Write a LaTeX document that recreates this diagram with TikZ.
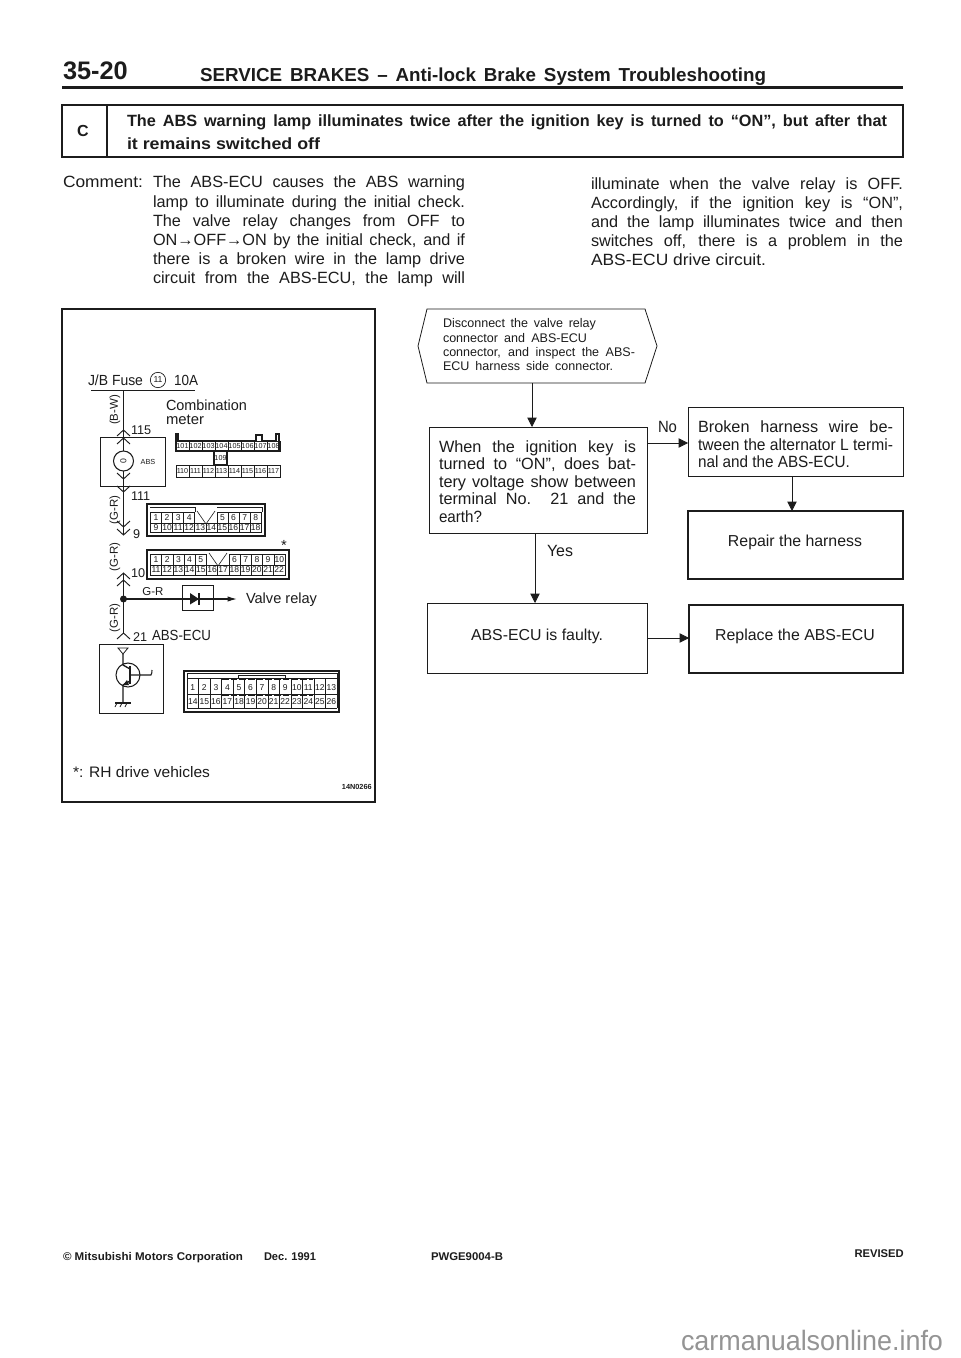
\documentclass[tikz,border=0pt]{standalone}
\usepackage{fontspec}
\setmainfont{Liberation Sans}
\usetikzlibrary{arrows.meta,calc}
\definecolor{ink}{HTML}{1C1C1C}
\newcommand{\fs}[1]{\fontsize{#1}{#1}\selectfont}
\newsavebox{\tlbox}
\newlength{\tlw}
\newcommand{\fitw}[2]{\setlength{\tlw}{0.75\dimexpr#1pt\relax}\sbox{\tlbox}{#2}\ifdim\wd\tlbox>\tlw\resizebox{\tlw}{\height}{\usebox{\tlbox}}\else\makebox[\tlw][s]{#2}\fi}
\newcommand{\forcew}[2]{\setlength{\tlw}{0.75\dimexpr#1pt\relax}\resizebox{\tlw}{\height}{#2}}
\newcommand{\tl}[5][\fs{12.2}]{\node[txt] at (#2,#3) {#1\fitw{#4}{#5}};}
\newcommand{\tr}[5][\fs{12.2}]{\node[txt] at (#2,#3) {#1\forcew{#4}{#5}};}
\tikzset{
  txt/.style={anchor=base west,inner sep=0pt,outer sep=0pt,text=ink},
  ctr/.style={anchor=center,inner sep=0pt,outer sep=0pt,text=ink},
  thin box/.style={draw=ink,line width=0.6pt,inner sep=0pt,outer sep=0pt},
  thick box/.style={draw=ink,line width=1.5pt,inner sep=0pt,outer sep=0pt},
  flow/.style={draw=ink,line width=0.6pt,-{Triangle[length=7pt,width=7pt]}},
  wire/.style={draw=ink,line width=1.4pt},
  chev/.style={draw=ink,line width=0.7pt},
  cell/.style={draw=ink,line width=0.45pt},
  pin/.style={ctr,font=\fs{6.4}},
  pinsm/.style={ctr,font=\fs{5.4}},
  bx/.style 2 args={minimum width=#1*0.75pt,minimum height=#2*0.75pt},
}
\begin{document}
\begin{tikzpicture}[x=0.75pt,y=-0.75pt]
\useasboundingbox (0,0) rectangle (960,1358);
\fill[white] (0,0) rectangle (960,1358);
% header
\tl[\bfseries\fs{19}]{63}{80}{65}{35-20}
\tl[\bfseries\fs{14.1}]{200}{82}{566}{SERVICE BRAKES -- Anti-lock Brake System Troubleshooting}
\fill[ink] (62,86) rectangle (903,89);
% C banner
\node[thin box,line width=0.9pt,bx={841}{52},anchor=north west] (ban) at (62,105) {};
\draw[ink,line width=0.9pt] (107,105) -- (107,157);
\node[ctr,font=\bfseries\fs{12}] (cc) at (83,131) {C};
\tl[\bfseries\fs{12.2}]{127}{127}{760}{The ABS warning lamp illuminates twice after the ignition key is turned to “ON”, but after that}
\tr[\bfseries\fs{12.2}]{127}{150}{193}{it remains switched off}
% comment
\tr{63}{188}{80}{Comment:}
\tl{153}{188}{312}{The ABS-ECU causes the ABS warning}
\tl{153}{207.5}{312}{lamp to illuminate during the initial check.}
\tl{153}{226.5}{312}{The valve relay changes from OFF to}
\tl{153}{246}{312}{ON\raisebox{0.5pt}{→}OFF\raisebox{0.5pt}{→}ON by the initial check, and if}
\tl{153}{265}{312}{there is a broken wire in the lamp drive}
\tl{153}{284}{312}{circuit from the ABS-ECU, the lamp will}
\tl{591}{190}{312}{illuminate when the valve relay is OFF.}
\tl{591}{209}{312}{Accordingly, if the ignition key is “ON”,}
\tl{591}{228}{312}{and the lamp illuminates twice and then}
\tl{591}{247}{312}{switches off, there is a problem in the}
\tr{591}{266}{175}{ABS-ECU drive circuit.}
% left frame
\node[thick box,bx={313}{493},anchor=north west] (frame) at (62,309) {};
\tr[\fs{11}]{88}{385}{55}{J/B Fuse}
\node[ctr,draw=ink,circle,line width=0.5pt,minimum size=11.5pt,font=\fs{6.5}] (f11) at (158,380) {11};
\tr[\fs{11}]{174}{385}{24}{10A}
\draw[ink,line width=0.7pt] (91,390) -- (195,390);
% main wire
\coordinate (wtop) at (123.5,390);
\coordinate (jun) at (123.5,599);
\coordinate (wbot) at (123.5,633);
\draw[wire] (wtop) -- (123.5,535);
\draw[wire] (123.5,573) -- (wbot);
\fill[ink] (jun) circle (3.5);
\node[ctr,rotate=90,font=\fs{8.6}] (w1) at (115,410) {(B-W)};
\node[ctr,rotate=90,font=\fs{8.6}] (w2) at (115,510) {(G-R)};
\node[ctr,rotate=90,font=\fs{8.6}] (w3) at (115,557) {(G-R)};
\node[ctr,rotate=90,font=\fs{8.6}] (w4) at (115,618) {(G-R)};
% chevrons
\foreach \yy/\dd in {430/-1,438/-1,479/1,492/1,527/1,535/1,573/-1,580/-1,633/-1}
  \draw[chev] (117,\yy+\dd*-6) -- (123.5,\yy) -- (130,\yy+\dd*-6);
\node[txt,font=\fs{9.5}] (n115) at (131,434) {115};
\node[txt,font=\fs{9.5}] (n111) at (131,500) {111};
\node[txt,font=\fs{9.5}] (n9) at (133,538) {9};
\node[txt,font=\fs{9.5}] (n10) at (131,577) {10};
\node[txt,font=\fs{9.5}] (n21) at (133,641) {21};
\tr[\fs{11}]{152}{640}{59}{ABS-ECU}
% ABS meter
\node[thin box,bx={65}{49},anchor=north west] (abs) at (100,437) {};
\node[ctr,draw=ink,circle,line width=0.8pt,minimum size=15pt,fill=white,font=\fs{6.5}] (lamp) at (123.5,461) {\rotatebox{90}{0}};
\node[ctr,font=\fs{5.5}] (abst) at (148,462) {ABS};
\tr[\fs{11}]{166}{410}{81}{Combination}
\tr[\fs{11}]{166}{424}{38}{meter}
% connector 1
\draw[cell,line width=0.8pt] (176,451) -- (176,434) -- (178,434) -- (178,441) -- (256,441) -- (256,435) -- (262,435) -- (262,441) -- (276,441) -- (276,434) -- (279,434) -- (279,451) -- cycle;
\foreach \n [count=\i from 0] in {101,102,103,104,105,106,107,108}
  { \draw[cell] ({176+13*\i},441) rectangle ({189+13*\i},451);
    \node[pinsm] (a\n) at ({182.5+13*\i},446) {\n}; }
\draw[cell,line width=0.8pt] (214,451) rectangle (227,465);
\node[pinsm] (a109) at (220.5,458) {109};
\foreach \n [count=\i from 0] in {110,111,112,113,114,115,116,117}
  { \draw[cell] ({176+13*\i},465) rectangle ({189+13*\i},477);
    \node[pinsm] (a\n) at ({182.5+13*\i},471) {\n}; }
% connector 2
\draw[cell,line width=0.9pt] (147,504) rectangle (265,536);
\draw[cell] (150,507) -- (195,507) -- (195,512);
\draw[cell] (217,507) -- (262,507) -- (262,512);
\foreach \n [count=\i from 0] in {1,2,3,4}
  { \draw[cell] ({150.5+11.07*\i},512) rectangle ({161.57+11.07*\i},523);
    \node[pin] (b\n) at ({156+11.07*\i},517.5) {\n}; }
\foreach \n [count=\i from 0] in {5,6,7,8}
  { \draw[cell] ({217+11.07*\i},512) rectangle ({228.07+11.07*\i},523);
    \node[pin] (b\n) at ({222.5+11.07*\i},517.5) {\n}; }
\draw[cell] (197,511) -- (206,524) -- (215,511);
\foreach \n [count=\i from 0] in {9,10,11,12,13,14,15,16,17,18}
  { \draw[cell] ({150.5+11.07*\i},523) rectangle ({161.57+11.07*\i},532);
    \node[pin] (b\n) at ({156+11.07*\i},527.5) {\n}; }
% connector 3
\draw[cell,line width=0.9pt] (147,550) rectangle (289,579);
\foreach \n [count=\i from 0] in {1,2,3,4,5}
  { \draw[cell] ({150.5+11.2*\i},554) rectangle ({161.7+11.2*\i},565);
    \node[pin] (c\n) at ({156+11.2*\i},559.5) {\n}; }
\foreach \n [count=\i from 0] in {6,7,8,9,10}
  { \draw[cell] ({229+11.2*\i},554) rectangle ({240.2+11.2*\i},565);
    \node[pin] (c\n) at ({234.5+11.2*\i},559.5) {\n}; }
\draw[cell] (209,553) -- (218,566) -- (227,553);
\foreach \n [count=\i from 0] in {11,12,13,14,15,16,17,18,19,20,21,22}
  { \draw[cell] ({150.5+11.2*\i},565) rectangle ({161.7+11.2*\i},575);
    \node[pin] (c\n) at ({156+11.2*\i},570) {\n}; }
\node[ctr,font=\fs{11}] (st) at (284,545) {*};
% valve relay branch
\node[thin box,bx={31}{25},anchor=north west] (dbox) at (182,585) {};
\coordinate (vend) at (237,599);
\draw[wire,line width=0.9pt,-{Latex[length=7pt,width=4pt]}] (jun) -- (vend);
\fill[ink] (190,593) -- (190,604.5) -- (199,599) -- cycle;
\draw[ink,line width=1pt] (199,593) -- (199,604.5);
\node[ctr,font=\fs{8.6}] (gr) at (153,592) {G-R};
\tr[\fs{11}]{246}{603}{71}{Valve relay}
% ECU
\node[thin box,bx={64}{69},anchor=north west] (ecu) at (99,644) {};
\draw[ink,line width=0.6pt] (118,648) -- (128,648) -- (123,654) -- cycle;
\draw[ink,line width=1pt] (123,654) -- (123,665) -- (130,669);
\draw[ink,line width=1pt] (130,681) -- (123,685) -- (123,703);
\fill[ink] (123,685) -- (129,685) -- (127,680) -- cycle;
\draw[ink,line width=0.8pt] (128,675) circle (12);
\draw[ink,line width=1.2pt] (130,666) -- (130,684);
\draw[ink,line width=0.8pt] (130,675) -- (151,675) .. controls (153,672) and (151,673) .. (152,670);
\draw[ink,line width=0.8pt] (115,703) -- (131,703);
\foreach \xx in {117,122,127} \draw[ink,line width=0.6pt] (\xx,703) -- (\xx-2,707);
% connector 4
\draw[cell,line width=0.9pt] (184,671) rectangle (339,712);
\draw[cell] (187,678) -- (187,673) -- (337,673) -- (337,678);
\draw[cell] (238,678) -- (238,675) -- (285,675) -- (285,678);
\foreach \n [count=\i from 0] in {1,2,3,4,5,6,7,8,9,10,11,12,13}
  { \ifnum\i>0\draw[cell] ({187+11.55*\i},678) -- ({187+11.55*\i},694);\fi
    \node[pin] (d\n) at ({192.8+11.55*\i},688) {\n}; }
\draw[cell] (187,678) -- (337,678);
\draw[cell] (187,694) -- (337,694);
\draw[cell] (187,708) -- (337,708);
\draw[cell] (187,678) -- (187,708);
\draw[cell] (337,678) -- (337,708);
\foreach \n [count=\i from 0] in {14,15,16,17,18,19,20,21,22,23,24,25,26}
  { \ifnum\i>0\draw[cell] ({187+11.55*\i},694) -- ({187+11.55*\i},708);\fi
    \node[pin] (d\n) at ({192.8+11.55*\i},702) {\n}; }
\draw[ink,line width=1.5pt,dash pattern=on 5pt off 1.5pt] (222,679) -- (313,679);
\draw[ink,line width=1.5pt,dash pattern=on 5pt off 1.5pt] (222,695) -- (313,695);
\tr[\fs{11.4}]{73}{777}{137}{*: RH drive vehicles}
\node[anchor=base east,inner sep=0pt,text=ink,font=\bfseries\fs{5.5}] (code) at (372,789) {14N0266};
% flowchart
\draw[ink,line width=0.6pt] (418,346) -- (427,309) -- (645,309) -- (657,346) -- (645,383) -- (427,383) -- cycle;
\coordinate (hexb) at (532,383);
\tl[\fs{9.4}]{443}{328}{153}{Disconnect the valve relay}
\tl[\fs{9.4}]{443}{343}{144}{connector and ABS-ECU}
\tl[\fs{9.4}]{443}{357}{192}{connector, and inspect the ABS-}
\tl[\fs{9.4}]{443}{371}{170}{ECU harness side connector.}
\node[thin box,bx={218}{106},anchor=north west] (q) at (429,427) {};
\tl{439}{452}{197}{When the ignition key is}
\tl{439}{469}{197}{turned to “ON”, does bat-}
\tl{439}{487}{197}{tery voltage show between}
\tl{439}{504}{197}{terminal No. 21 and the}
\tr{439}{522}{43}{earth?}
\node[thin box,bx={215}{69},anchor=north west] (brk) at (688,407) {};
\tl{698}{432}{195}{Broken harness wire be-}
\tl{698}{450}{195}{tween the alternator L termi-}
\tr{698}{467}{152}{nal and the ABS-ECU.}
\node[thick box,bx={215}{68},anchor=north west] (rep) at (688,511) {};
\node[ctr,font=\fs{11.9}] (rept) at (795,542) {Repair the harness};
\node[thin box,bx={220}{70},anchor=north west] (fau) at (427,603) {};
\node[ctr,font=\fs{11.9}] (faut) at (537,636) {ABS-ECU is faulty.};
\node[thick box,bx={214}{68},anchor=north west] (rpl) at (689,605) {};
\node[ctr,font=\fs{11.9}] (rplt) at (795,636) {Replace the ABS-ECU};
\coordinate (noy) at (647,443);
\coordinate (fy) at (647,638);
\coordinate (yesx) at (535,533);
\coordinate (brkx) at (792,476);
\draw[flow] (hexb) -- (hexb |- q.north);
\draw[flow] (yesx) -- (yesx |- fau.north);
\draw[flow] (q.east |- noy) -- (brk.west |- noy);
\draw[flow] (fau.east |- fy) -- (rpl.west |- fy);
\draw[flow] (brkx) -- (brkx |- rep.north);
\tr{658}{432}{19}{No}
\tr{547}{556}{26}{Yes}
% footer
\tr[\bfseries\fs{8.4}]{63}{1260}{180}{© Mitsubishi Motors Corporation}
\tr[\bfseries\fs{8.4}]{264}{1260}{52}{Dec. 1991}
\tr[\bfseries\fs{8.4}]{431}{1260}{72}{PWGE9004-B}
\node[anchor=base east,inner sep=0pt,text=ink,font=\bfseries\fs{8.4}] (rev) at (904,1257) {REVISED};
\node[txt,text=black!42,font=\fs{21}] (wm) at (681,1350) {\forcew{262}{carmanualsonline.info}};
\end{tikzpicture}
\end{document}
